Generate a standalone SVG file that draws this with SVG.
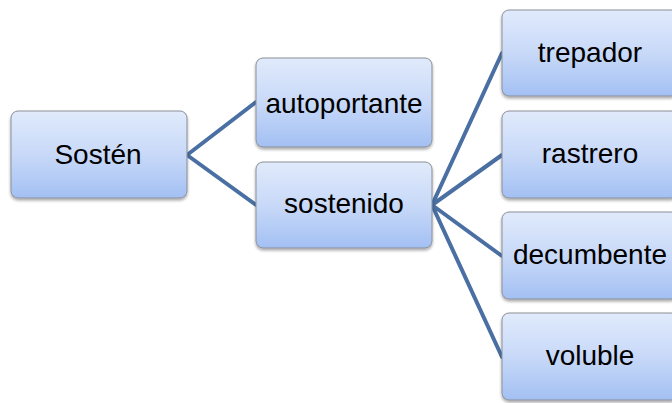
<svg xmlns="http://www.w3.org/2000/svg" width="672" height="403" viewBox="0 0 672 403">
<defs>
<linearGradient id="g" x1="0" y1="0" x2="0" y2="1">
<stop offset="0" stop-color="#e0eafb"/>
<stop offset="0.5" stop-color="#c8d9f8"/>
<stop offset="1" stop-color="#a3c0f3"/>
</linearGradient>
<filter id="sh" x="-10%" y="-10%" width="120%" height="130%">
<feGaussianBlur in="SourceAlpha" stdDeviation="1.5"/>
<feOffset dx="0" dy="1.5" result="b"/>
<feComponentTransfer><feFuncA type="linear" slope="0.35"/></feComponentTransfer>
<feMerge><feMergeNode/><feMergeNode in="SourceGraphic"/></feMerge>
</filter>
</defs>
<style>
.box{fill:url(#g);stroke:#8a8f99;stroke-width:1;filter:url(#sh)}
.t{font-family:"Liberation Sans",Arial,sans-serif;font-size:28px;fill:#000;text-anchor:middle}
.c{stroke:#4a6fa3;stroke-width:4;fill:none;stroke-linecap:round}
</style>
<rect width="672" height="403" fill="#fff"/>
<g id="connectors">
<path class="c" d="M187 155 L256 102 M187 155 L256 205"/>
<path class="c" d="M432 205 L502 53 M432 205 L502 155 M432 205 L502 256 M432 205 L502 357"/>
</g>
<g id="sosten"><rect class="box" x="11" y="111" width="176" height="87" rx="7"/><text class="t" x="98" y="164">Sostén</text></g>
<g id="autoportante"><rect class="box" x="256" y="58" width="176" height="89" rx="7"/><text class="t" x="344" y="113">autoportante</text></g>
<g id="sostenido"><rect class="box" x="256" y="162" width="176" height="86" rx="7"/><text class="t" x="344" y="213">sostenido</text></g>
<g id="trepador"><rect class="box" x="502" y="10" width="176" height="86" rx="7"/><text class="t" x="590" y="62">trepador</text></g>
<g id="rastrero"><rect class="box" x="502" y="111" width="176" height="87" rx="7"/><text class="t" x="590" y="163">rastrero</text></g>
<g id="decumbente"><rect class="box" x="502" y="212" width="176" height="87" rx="7"/><text class="t" x="590" y="264">decumbente</text></g>
<g id="voluble"><rect class="box" x="502" y="313" width="176" height="87" rx="7"/><text class="t" x="590" y="365">voluble</text></g>
</svg>
